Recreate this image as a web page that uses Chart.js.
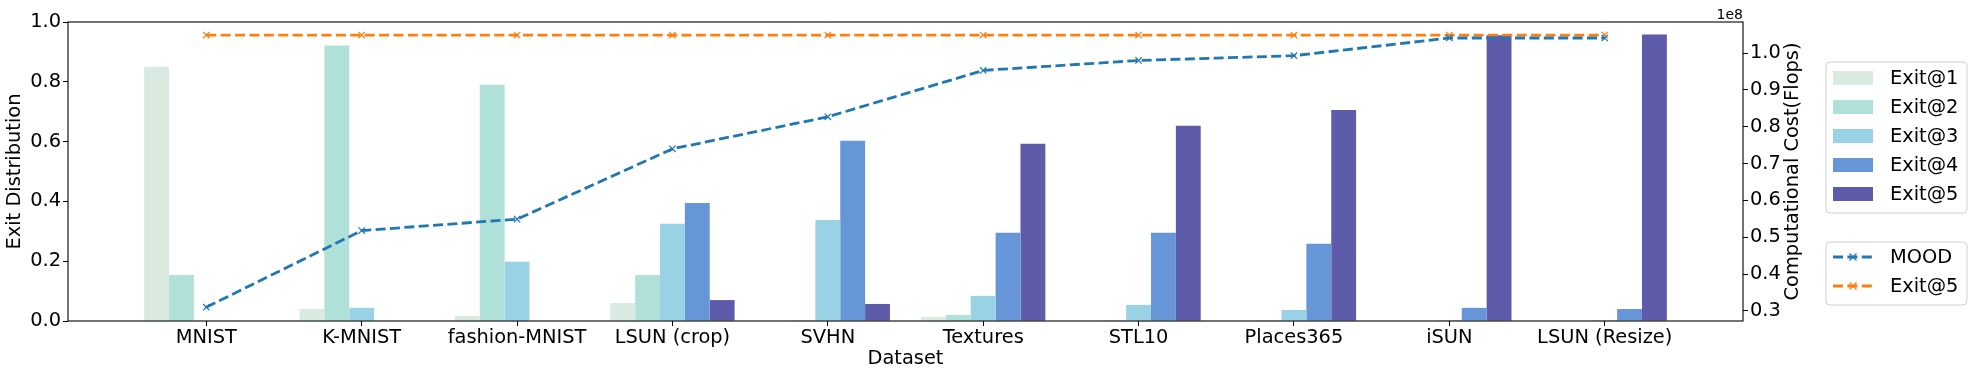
<!DOCTYPE html>
<html>
<head>
<meta charset="utf-8">
<script src="https://cdn.jsdelivr.net/npm/chart.js@4.4.1/dist/chart.umd.min.js"></script>
<style>
  html, body { margin: 0; padding: 0; background: #fff; }
  #wrap { width: 1974px; height: 377px; position: relative; }
</style>
</head>
<body>
<div id="wrap"><canvas id="exitChart"></canvas></div>
<script>
// data
const categories = ['MNIST', 'K-MNIST', 'fashion-MNIST', 'LSUN (crop)', 'SVHN', 'Textures', 'STL10', 'Places365', 'iSUN', 'LSUN (Resize)'];

const exit1 = [0.850, 0.040, 0.017, 0.060, 0, 0.013, 0, 0, 0, 0];
const exit2 = [0.154, 0.921, 0.790, 0.154, 0.003, 0.020, 0.003, 0.003, 0, 0];
const exit3 = [0, 0.044, 0.198, 0.325, 0.338, 0.084, 0.054, 0.037, 0.003, 0.003];
const exit4 = [0, 0, 0, 0.395, 0.603, 0.295, 0.295, 0.258, 0.044, 0.040];
const exit5 = [0, 0, 0, 0.070, 0.057, 0.593, 0.653, 0.706, 0.956, 0.958];

// computational cost (flops)
const moodCost = [31.0e6, 51.8e6, 54.9e6, 74.0e6, 82.7e6, 95.3e6, 98.0e6, 99.3e6, 104.1e6, 104.1e6];
const exit5Cost = [104.9e6, 104.9e6, 104.9e6, 104.9e6, 104.9e6, 104.9e6, 104.9e6, 104.9e6, 104.9e6, 104.9e6];

const leftTicks = [0, 0.2, 0.4, 0.6, 0.8, 1.0];
const rightTicks = [0.3e8, 0.4e8, 0.5e8, 0.6e8, 0.7e8, 0.8e8, 0.9e8, 1.0e8];

const barColors = ['#d9eae0', '#b0e1d9', '#9ad2e5', '#6695d8', '#5f5bab'];
const FONT = 'DejaVu Sans';
const FS = 19.4;

const toPoints = arr => arr.map((v, i) => ({ x: i, y: v }));

function barSet(label, values, color) {
  return {
    type: 'bar',
    label: label,
    data: toPoints(values),
    backgroundColor: color,
    borderWidth: 0,
    categoryPercentage: 0.8,
    barPercentage: 1.0,
    yAxisID: 'y',
    order: 1
  };
}

function lineSet(label, values, color) {
  return {
    type: 'line',
    label: label,
    data: toPoints(values),
    borderColor: color,
    backgroundColor: color,
    borderWidth: 2.8,
    borderDash: [10, 4.4],
    pointStyle: 'crossRot',
    pointRadius: 4.5,
    pointBorderWidth: 1.2,
    pointBorderColor: color,
    tension: 0,
    fill: false,
    yAxisID: 'y2',
    order: 0
  };
}

var data = {
  datasets: [
    barSet('Exit@1', exit1, barColors[0]),
    barSet('Exit@2', exit2, barColors[1]),
    barSet('Exit@3', exit3, barColors[2]),
    barSet('Exit@4', exit4, barColors[3]),
    barSet('Exit@5', exit5, barColors[4]),
    lineSet('MOOD', moodCost, '#1f77b4'),
    lineSet('Exit@5', exit5Cost, '#ff7f0e')
  ]
};

function roundBox(ctx, x, y, w, h, r) {
  ctx.beginPath();
  ctx.moveTo(x + r, y);
  ctx.lineTo(x + w - r, y);
  ctx.arcTo(x + w, y, x + w, y + r, r);
  ctx.lineTo(x + w, y + h - r);
  ctx.arcTo(x + w, y + h, x + w - r, y + h, r);
  ctx.lineTo(x + r, y + h);
  ctx.arcTo(x, y + h, x, y + h - r, r);
  ctx.lineTo(x, y + r);
  ctx.arcTo(x, y, x + r, y, r);
  ctx.closePath();
}

// frame, offset text, right title and the two legend boxes
var decorations = {
  id: 'decorations',
  afterDraw(chart) {
    const { ctx, chartArea: { left, right, top, bottom } } = chart;
    ctx.save();

    ctx.strokeStyle = '#000';
    ctx.lineWidth = 1.1;
    ctx.strokeRect(left, top, right - left, bottom - top);

    ctx.fillStyle = '#000';
    ctx.font = `14px "${FONT}"`;
    ctx.textAlign = 'right';
    ctx.textBaseline = 'alphabetic';
    ctx.fillText('1e8', right, top - 3);

    ctx.save();
    ctx.translate(right + 50, (top + bottom) / 2);
    ctx.rotate(-Math.PI / 2);
    ctx.font = `${FS}px "${FONT}"`;
    ctx.textAlign = 'center';
    ctx.textBaseline = 'middle';
    ctx.fillText('Computational Cost(Flops)', 0, 0);
    ctx.restore();

    const sets = chart.data.datasets;
    const bars = sets.filter(d => d.type === 'bar');
    const lines = sets.filter(d => d.type === 'line');
    const bx = 1826, bw = 141, rowH = 29;

    // box 1: bars
    roundBox(ctx, bx, 62, bw, 151, 4);
    ctx.fillStyle = 'rgba(255,255,255,0.8)';
    ctx.fill();
    ctx.strokeStyle = '#d0d0d0';
    ctx.lineWidth = 1;
    ctx.stroke();

    ctx.font = `${FS}px "${FONT}"`;
    ctx.textAlign = 'left';
    ctx.textBaseline = 'middle';
    bars.forEach((d, i) => {
      const cy = 78 + i * rowH;
      ctx.fillStyle = d.backgroundColor;
      ctx.fillRect(1833, cy - 7, 40, 14);
      ctx.fillStyle = '#000';
      ctx.fillText(d.label, 1890, cy + 1);
    });

    // box 2: lines
    roundBox(ctx, bx, 242, bw, 63, 4);
    ctx.fillStyle = 'rgba(255,255,255,0.8)';
    ctx.fill();
    ctx.strokeStyle = '#d0d0d0';
    ctx.lineWidth = 1;
    ctx.stroke();

    lines.forEach((d, i) => {
      const cy = 257 + i * rowH;
      ctx.strokeStyle = d.borderColor;
      ctx.lineWidth = 2.8;
      ctx.setLineDash([10, 4.4]);
      ctx.beginPath();
      ctx.moveTo(1833, cy);
      ctx.lineTo(1873, cy);
      ctx.stroke();
      ctx.setLineDash([]);
      ctx.lineWidth = 1.2;
      ctx.beginPath();
      ctx.moveTo(1853 - 3.5, cy - 3.5); ctx.lineTo(1853 + 3.5, cy + 3.5);
      ctx.moveTo(1853 - 3.5, cy + 3.5); ctx.lineTo(1853 + 3.5, cy - 3.5);
      ctx.stroke();
      ctx.fillStyle = '#000';
      ctx.fillText(d.label, 1890, cy + 1);
    });

    ctx.restore();
  }
};

const tickFont = { family: FONT, size: FS };

// config
const exitChartConfig = {
  type: 'bar',
  data,
  options: {
    responsive: true,
    maintainAspectRatio: false,
    animation: false,
    layout: { padding: { top: 22, left: 0, right: 0, bottom: 0 } },
    scales: {
      x: {
        type: 'linear',
        min: -0.89,
        max: 9.89,
        offset: false,
        grid: { offset: false, drawOnChartArea: false, drawTicks: true, tickLength: 5, color: '#000' },
        border: { display: false },
        ticks: {
          includeBounds: false,
          autoSkip: false,
          maxRotation: 0,
          padding: 0,
          color: '#000',
          font: tickFont,
          callback: v => categories[v]
        },
        afterBuildTicks(scale) {
          scale.ticks = categories.map((c, i) => ({ value: i }));
        },
        afterFit(scale) { scale.height = 56; },
        title: {
          display: true,
          text: 'Dataset',
          color: '#000',
          font: tickFont,
          padding: { top: 0, bottom: 6 }
        }
      },
      y: {
        position: 'left',
        min: 0,
        max: 1,
        grid: { drawOnChartArea: false, drawTicks: true, tickLength: 5, color: '#000' },
        border: { display: false },
        ticks: { padding: 2, color: '#000', font: tickFont, callback: v => v.toFixed(1) },
        afterBuildTicks(scale) {
          scale.ticks = leftTicks.map(v => ({ value: v }));
        },
        afterFit(scale) { scale.width = 68; },
        title: {
          display: true,
          text: 'Exit Distribution',
          color: '#000',
          font: tickFont,
          padding: { top: 3, bottom: 0 }
        }
      },
      y2: {
        position: 'right',
        min: 0.2725e8,
        max: 1.0845e8,
        grid: { drawOnChartArea: false, drawTicks: true, tickLength: 5, color: '#000' },
        border: { display: false },
        ticks: { padding: 2, color: '#000', font: tickFont, callback: v => (v / 1e8).toFixed(1) },
        afterBuildTicks(scale) {
          scale.ticks = rightTicks.map(v => ({ value: v }));
        },
        afterFit(scale) { scale.width = 231; }
      }
    },
    plugins: {
      legend: { display: false },
      tooltip: { enabled: false }
    }
  },
  plugins: [decorations]
};

// render init block
const exitChart = new Chart(
  document.getElementById('exitChart'),
  exitChartConfig
);
</script>
</body>
</html>
